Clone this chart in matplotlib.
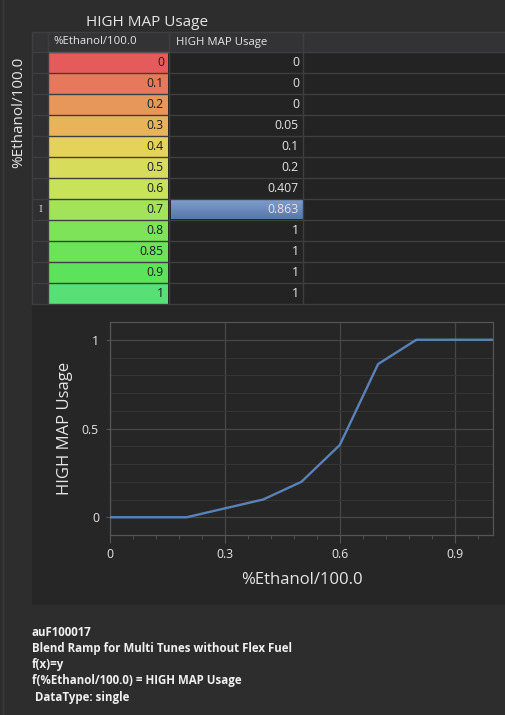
"""
HIGH MAP Usage table + blend ramp chart (dark editor style)
"""
import numpy as np
import matplotlib
matplotlib.use('Agg')
import matplotlib.pyplot as plt
from matplotlib.patches import Rectangle
from matplotlib.colors import LinearSegmentedColormap
from matplotlib.ticker import MultipleLocator

# ── Data ─────────────────────────────────────────────────────
ethanol = [0, 0.1, 0.2, 0.3, 0.4, 0.5, 0.6, 0.7, 0.8, 0.85, 0.9, 1]
usage = [0, 0, 0, 0.05, 0.1, 0.2, 0.407, 0.863, 1, 1, 1, 1]
selected_row = 7

table_title = 'HIGH MAP Usage'
x_name = '%Ethanol/100.0'
y_name = 'HIGH MAP Usage'
x_ticks = [0, 0.3, 0.6, 0.9]
y_ticks = [0, 0.5, 1]
info_lines = ['auF100017',
              'Blend Ramp for Multi Tunes without Flex Fuel',
              'f(x)=y',
              'f(%Ethanol/100.0) = HIGH MAP Usage',
              ' DataType: single']

# ── Style ────────────────────────────────────────────────────
plt.rcParams['font.family'] = ['Open Sans', 'DejaVu Sans']
BG = '#2d2d2d'
PANEL = '#262626'
CELL = '#232323'
HEADER = '#333336'
LINE = '#3e3e3e'
TXT = '#e6e6e6'

ramp = LinearSegmentedColormap.from_list(
    'ramp', [(0.0, '#e55b5b'), (0.2, '#e8975a'), (0.42, '#e5d85a'),
             (0.6, '#c6e35a'), (0.9, '#5ce35a'), (1.0, '#58e077')])

fig = plt.figure(figsize=(5.06, 7.15), dpi=100, facecolor=BG)
bg = fig.add_axes([0, 0, 1, 1])
bg.set_xlim(0, 506)
bg.set_ylim(715, 0)
bg.axis('off')
bg.set_facecolor(BG)

# left frame line
bg.plot([3, 3], [0, 715], color='#3a3a3a', lw=1)

# ── Table ────────────────────────────────────────────────────
t_left, rh_w = 32, 16
c1_l, c1_r = 49, 168
c2_l, c2_r = 170, 303
hdr_top, hdr_bot = 32, 52
row_h = 21
n = len(ethanol)
t_bot = hdr_bot + n * row_h

bg.text(147, 22, table_title, color=TXT, fontsize=11, ha='center', va='center')
bg.text(19, 112, x_name, color=TXT, fontsize=11, rotation=90, ha='center', va='center')

bg.add_patch(Rectangle((t_left, hdr_top), 506 - t_left, t_bot - hdr_top, color=CELL, lw=0))
bg.add_patch(Rectangle((t_left, hdr_top), 506 - t_left, hdr_bot - hdr_top, color=HEADER, lw=0))
bg.add_patch(Rectangle((t_left, hdr_bot), rh_w, t_bot - hdr_bot, color='#2f2f31', lw=0))
bg.text(c1_l + 4, 42, x_name, color=TXT, fontsize=8.2, ha='left', va='center')
bg.text(c2_l + 6, 42, y_name, color=TXT, fontsize=8.2, ha='left', va='center')

for i, (xv, yv) in enumerate(zip(ethanol, usage)):
    top = hdr_bot + i * row_h
    mid = top + row_h / 2
    bg.add_patch(Rectangle((c1_l, top), c1_r - c1_l, row_h, color=ramp(float(xv)), lw=0))
    bg.text(c1_r - 4, mid, f'{xv:g}', color='#1e1e1e', fontsize=8.8, ha='right', va='center')
    if i == selected_row:
        grad = np.linspace(0, 1, 20).reshape(-1, 1)
        sel = LinearSegmentedColormap.from_list('sel', ['#7d9ccb', '#5878aa'])
        bg.imshow(grad, cmap=sel, extent=(c2_l + 1, c2_r, top + row_h - 1, top + 1),
                  aspect='auto', zorder=2)
    bg.text(c2_r - 4, mid, f'{yv:g}', color=TXT, fontsize=8.8, ha='right', va='center', zorder=3)

# grid lines of the table
for i in range(n + 1):
    y = hdr_bot + i * row_h
    bg.plot([t_left, 506], [y, y], color=LINE, lw=1)
bg.plot([t_left, 506], [hdr_top, hdr_top], color=LINE, lw=1)
for x in [t_left, c1_l - 0.5, c1_r + 1, c2_r + 0.5]:
    bg.plot([x, x], [hdr_top, t_bot], color=LINE, lw=1)
bg.plot([c1_l, c1_r], [hdr_bot, hdr_bot], color='#555555', lw=1)

# text cursor
bg.text(40, 210, 'I', color='#cccccc', fontsize=7, family='DejaVu Serif', ha='center', va='center')

# ── Chart panel ──────────────────────────────────────────────
bg.add_patch(Rectangle((t_left, t_bot + 1), 506 - t_left, 605 - t_bot - 1, color=PANEL, lw=0))

W, H = 506, 715
ax_l, ax_r, ax_t, ax_b = 110, 493, 322, 535
ax = fig.add_axes([ax_l / W, (H - ax_b) / H, (ax_r - ax_l) / W, (ax_b - ax_t) / H])
ax.set_facecolor(PANEL)
ax.plot(ethanol, usage, color='#5a82b8', lw=1.7, zorder=3)
ax.set_xlim(0, 1)
ax.set_ylim(-0.1, 1.1)
ax.set_xticks(x_ticks)
ax.set_xticklabels([f'{v:g}' for v in x_ticks])
ax.set_yticks(y_ticks)
ax.set_yticklabels([f'{v:g}' for v in y_ticks])
ax.xaxis.set_minor_locator(MultipleLocator(0.06))
ax.yaxis.set_minor_locator(MultipleLocator(0.1))
ax.grid(which='major', color='#474747', lw=0.9)
ax.grid(which='minor', axis='y', color='#353535', lw=0.8)
for s in ax.spines.values():
    s.set_color('#555555')
    s.set_linewidth(0.9)
ax.tick_params(axis='x', which='major', length=6, color='#555555', labelcolor=TXT,
               labelsize=8.8, pad=3)
ax.tick_params(axis='x', which='minor', length=3, color='#555555')
ax.tick_params(axis='y', which='major', length=3, color='#555555', labelcolor=TXT,
               labelsize=8.8, pad=5)
ax.tick_params(axis='y', which='minor', length=0)
ax.set_xlabel(x_name, color=TXT, fontsize=12, labelpad=8)
ax.set_ylabel(y_name, color=TXT, fontsize=12, labelpad=6)

# ── Info text ────────────────────────────────────────────────
for k, line in enumerate(info_lines):
    bg.text(32, 632 + k * 16.3, line, color='#f0f0f0', fontsize=8.3, fontweight='bold',
            ha='left', va='center')

fig.savefig('out.png', dpi=100, facecolor=BG)
